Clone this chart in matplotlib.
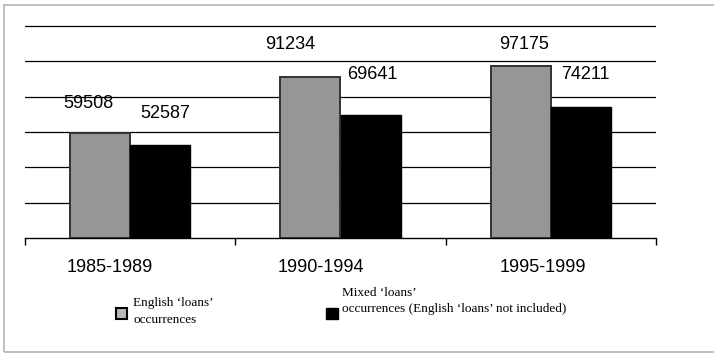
import numpy as np
import matplotlib.pyplot as plt
from matplotlib.patches import Rectangle

PERIODS = ["1985-1989", "1990-1994", "1995-1999"]
ENGLISH_LOANS = [59508, 91234, 97175]
MIXED_LOANS = [52587, 69641, 74211]

LEGEND_ENGLISH = "English \u2018loans\u2019\noccurrences"
LEGEND_MIXED_TOP = "Mixed \u2018loans\u2019"
LEGEND_MIXED_BOTTOM = "occurrences (English \u2018loans\u2019 not included)"

# label nudges in pixels (dx, dy from bar top centre)
ENGLISH_LABEL_SHIFT = [(-12, 29), (-20, 32), (3, 22)]
MIXED_LABEL_SHIFT = [(5, 32), (2, 40), (4, 32)]
PERIOD_LABEL_SHIFT = [-20, -20, -8]

GREY = "#969696"
SANS = "Liberation Sans"
SERIF = "Liberation Serif"

W, H = 714, 353


def fx(px):
    return px / W


def fy(py):
    return 1 - py / H


figure = plt.figure(figsize=(W / 100, H / 100), dpi=100)
figure.patches.append(Rectangle((fx(4), fy(352)), 1.0, fy(5) - fy(352),
                                transform=figure.transFigure, fill=False,
                                edgecolor="#b4b4b4", linewidth=1.2))

ax = figure.add_axes([fx(25), fy(238), fx(656) - fx(25), (238 - 26) / H * 121000 / 120000])
xs = np.arange(len(PERIODS))
width = 0.286

ax.bar(xs - width / 2, ENGLISH_LOANS, width=width, color=GREY,
       edgecolor="#333333", linewidth=1.4, zorder=3)
ax.bar(xs + width / 2, MIXED_LOANS, width=width, color="black",
       edgecolor="black", linewidth=1.0, zorder=3)

for x, v, (dx, dy) in zip(xs - width / 2, ENGLISH_LOANS, ENGLISH_LABEL_SHIFT):
    ax.annotate(f"{v}", xy=(x, v), xytext=(dx, dy), textcoords="offset pixels",
                ha="center", va="center", fontsize=13, family=SANS)
for x, v, (dx, dy) in zip(xs + width / 2, MIXED_LOANS, MIXED_LABEL_SHIFT):
    ax.annotate(f"{v}", xy=(x, v), xytext=(dx, dy), textcoords="offset pixels",
                ha="center", va="center", fontsize=13, family=SANS)
for x, name, dx in zip(xs, PERIODS, PERIOD_LABEL_SHIFT):
    ax.annotate(name, xy=(x, 0), xytext=(dx, -29), textcoords="offset pixels",
                ha="center", va="center", fontsize=13, family=SANS,
                annotation_clip=False)

ax.set_xlim(-0.5, len(PERIODS) - 0.5)
ax.set_ylim(0, 121000)
ax.set_yticks(np.arange(20000, 120001, 20000))
ax.yaxis.grid(True, color="black", linewidth=0.9, zorder=0)
ax.tick_params(axis="y", left=False, labelleft=False)
ax.set_xticks(np.arange(-0.5, len(PERIODS), 1.0))
ax.tick_params(axis="x", direction="out", length=5, width=1, color="black",
               labelbottom=False)
for side in ("left", "right", "top"):
    ax.spines[side].set_visible(False)
ax.spines["bottom"].set_linewidth(1.0)
ax.set_axisbelow(True)

# legend drawn by hand
figure.patches.append(Rectangle((fx(116), fy(319)), fx(11), 11 / H,
                                transform=figure.transFigure, facecolor="#b8b8b8",
                                edgecolor="black", linewidth=1.5))
figure.text(fx(133), fy(311.5), LEGEND_ENGLISH, ha="left", va="center",
            fontsize=9.5, family=SERIF, linespacing=1.45)
figure.patches.append(Rectangle((fx(326), fy(319)), fx(12), 11 / H,
                                transform=figure.transFigure, facecolor="black",
                                edgecolor="black", linewidth=1))
figure.text(fx(342), fy(293), LEGEND_MIXED_TOP, ha="left", va="center",
            fontsize=9.5, family=SERIF)
figure.text(fx(342), fy(309), LEGEND_MIXED_BOTTOM, ha="left", va="center",
            fontsize=9.5, family=SERIF)

figure.savefig("out.png", dpi=100)
